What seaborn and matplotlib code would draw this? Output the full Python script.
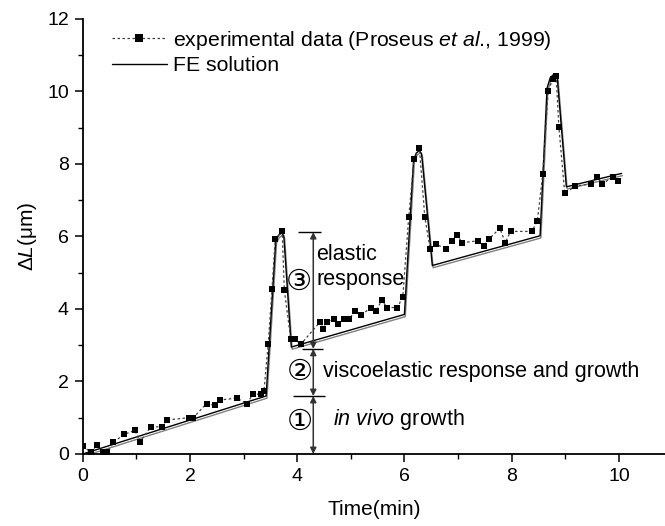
import matplotlib
matplotlib.use("Agg")
import matplotlib.pyplot as plt
import matplotlib.patheffects as pe
from matplotlib.lines import Line2D
import numpy as np
import pandas as pd
import seaborn as sns

# Measured elongation (Proseus et al., 1999)
exp_time = [0.00, 0.15, 0.27, 0.38, 0.46, 0.57, 0.77, 0.97, 1.07, 1.27, 1.47, 1.57,
            1.98, 2.06, 2.31, 2.47, 2.56, 2.87, 3.07, 3.17, 3.32, 3.38, 3.46, 3.53,
            3.59, 3.72, 3.76, 3.88, 3.95, 4.07, 4.43, 4.48, 4.56, 4.68, 4.77, 4.88,
            4.97, 5.08, 5.19, 5.38, 5.47, 5.58, 5.67, 5.87, 5.97, 6.08, 6.18, 6.28,
            6.38, 6.48, 6.59, 6.78, 6.88, 6.98, 7.08, 7.37, 7.48, 7.58, 7.78, 7.88,
            7.98, 8.38, 8.48, 8.58, 8.68, 8.77, 8.83, 8.88, 8.99, 9.19, 9.48, 9.59,
            9.69, 9.89, 9.99]
exp_dL = [0.22, 0.05, 0.25, 0.06, 0.06, 0.32, 0.54, 0.65, 0.34, 0.75, 0.75, 0.94,
          1.00, 1.00, 1.39, 1.34, 1.49, 1.54, 1.39, 1.65, 1.65, 1.74, 3.04, 4.54,
          5.93, 6.14, 4.52, 3.17, 3.17, 3.03, 3.65, 3.45, 3.63, 3.72, 3.59, 3.72,
          3.72, 3.94, 3.83, 4.04, 3.94, 4.25, 4.04, 4.04, 4.34, 6.53, 8.14, 8.43,
          6.53, 5.65, 5.79, 5.65, 5.88, 6.03, 5.83, 5.88, 5.74, 5.93, 6.23, 5.83,
          6.14, 6.14, 6.44, 7.72, 10.02, 10.34, 10.42, 9.03, 7.19, 7.39, 7.45, 7.65,
          7.45, 7.65, 7.53]

# Finite element solution
fe_time = [0.00, 3.42, 3.60, 3.65, 3.71, 3.75, 3.89, 6.00, 6.17, 6.22, 6.28, 6.32,
           6.52, 8.53, 8.66, 8.72, 8.79, 8.85, 9.02, 10.05]
fe_dL = [0.00, 1.60, 5.88, 6.03, 6.10, 6.02, 2.95, 3.85, 8.10, 8.30, 8.37, 8.28,
         5.20, 6.02, 10.09, 10.38, 10.48, 10.38, 7.37, 7.74]

x_ticks = [0, 2, 4, 6, 8, 10]
y_ticks = [0, 2, 4, 6, 8, 10, 12]

# Response decomposition levels marked on the first loading cycle
arrow_t = 4.30
level_growth = 1.60
level_visco = 2.90
level_elastic = 6.12

sns.set_style("ticks")
plt.rcParams["font.family"] = ["Liberation Sans", "DejaVu Sans", "Noto Sans CJK SC"]
plt.rcParams["mathtext.fontset"] = "custom"
plt.rcParams["mathtext.rm"] = "Liberation Sans"
plt.rcParams["mathtext.it"] = "Liberation Sans:italic"
plt.rcParams["mathtext.bf"] = "Liberation Sans:bold"
plt.rcParams["text.color"] = "black"
plt.rcParams["axes.labelcolor"] = "black"

fig = plt.figure(figsize=(6.65, 5.26), dpi=100)
ax = fig.add_axes([0.1244, 0.1369, 0.8756, 0.827])

exp_df = pd.DataFrame({"t": exp_time, "dL": exp_dL})
fe_df = pd.DataFrame({"t": fe_time, "dL": fe_dL})

sns.lineplot(data=fe_df, x="t", y="dL", ax=ax, estimator=None, sort=False,
             color="black", lw=1.0,
             path_effects=[pe.SimpleLineShadow(offset=(0.6, -1.6), shadow_color="0.45", alpha=0.9),
                           pe.Normal()])
sns.lineplot(data=exp_df, x="t", y="dL", ax=ax, estimator=None, sort=False,
             color="0.25", lw=0.9, linestyle=(0, (2, 2)),
             marker="s", markersize=5, markeredgewidth=0, markerfacecolor="black")

ax.set_xlim(0, 10.86)
ax.set_ylim(0, 12)
ax.set_xticks(x_ticks)
ax.set_yticks(y_ticks)
ax.set_xticks(np.arange(1, 11, 2), minor=True)
ax.set_yticks(np.arange(1, 12, 2), minor=True)
ax.tick_params(which="major", length=6, width=1.1, labelsize=14, pad=4,
               color="black", labelcolor="black")
ax.tick_params(which="minor", length=3.5, width=1.0, color="black")
for side in ("top", "right"):
    ax.spines[side].set_visible(False)
for side in ("left", "bottom"):
    ax.spines[side].set_linewidth(1.3)
    ax.spines[side].set_color("black")
ax.set_xlabel("Time(min)", fontsize=15, labelpad=11)
ax.set_ylabel(r"$\mathit{ΔL}$(μm)", fontsize=15, labelpad=6)

# Decomposition arrows
arrow_kw = dict(arrowstyle="<|-|>", color="0.2", lw=1.1, mutation_scale=9, shrinkA=0, shrinkB=0)
ax.annotate("", xy=(arrow_t, 0), xytext=(arrow_t, level_growth), arrowprops=arrow_kw)
ax.annotate("", xy=(arrow_t, level_growth), xytext=(arrow_t, level_visco), arrowprops=arrow_kw)
ax.annotate("", xy=(arrow_t, level_visco), xytext=(arrow_t, level_elastic), arrowprops=arrow_kw)
ax.hlines(level_elastic, 4.02, 4.45, color="black", lw=1.0)
ax.hlines(level_visco, 4.09, 4.49, color="black", lw=1.0)
ax.hlines(level_growth, 3.93, 4.52, color="black", lw=1.0)

ax.text(4.04, 4.75, "③", fontsize=21, ha="center", va="center")
ax.text(4.05, 2.27, "②", fontsize=21, ha="center", va="center")
ax.text(4.05, 0.89, "①", fontsize=21, ha="center", va="center")
ax.text(4.36, 5.49, "elastic", fontsize=15.5, ha="left", va="center")
ax.text(4.36, 4.80, "response", fontsize=15.5, ha="left", va="center")
ax.text(4.49, 2.27, "viscoelastic response and growth", fontsize=15.5, ha="left", va="center")
ax.text(4.66, 0.94, r"$\mathit{in\ vivo}$ growth", fontsize=15.5, ha="left", va="center")

handles = [Line2D([], [], color="0.25", lw=0.9, linestyle=(0, (2, 2)), marker="s",
                  markersize=6, markeredgewidth=0, markerfacecolor="black"),
           Line2D([], [], color="black", lw=1.0)]
labels = [r"experimental data (Proseus $\mathit{et\ al}$., 1999)", "FE solution"]
ax.legend(handles, labels, loc="upper left", bbox_to_anchor=(0.035, 0.997), frameon=False,
          fontsize=15.3, handlelength=2.6, handletextpad=0.3, labelspacing=0.2, borderaxespad=0)

fig.savefig("out.png", dpi=100, facecolor="white")
